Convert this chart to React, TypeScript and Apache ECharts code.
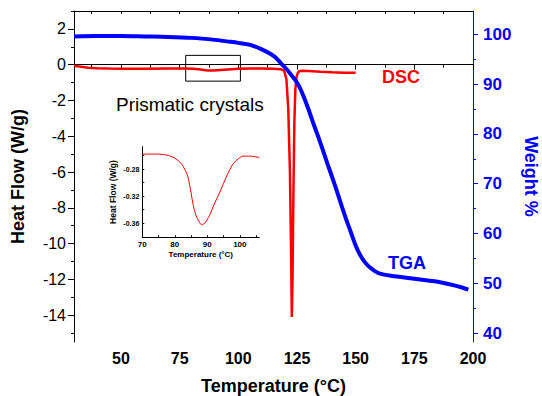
import React, { useEffect, useRef } from "react";
import * as echarts from "echarts";

// ---- DSC (heat flow, W/g) ----
const dscT = [30, 33, 36, 40, 45, 50, 60, 70, 78, 82, 84, 86, 87.5, 89, 91, 94, 97, 100, 105, 110, 115, 118, 119.5, 120.5, 121.3, 122, 122.5, 122.8, 123.1, 123.5, 123.9, 124.3, 124.8, 125.4, 126, 127, 130, 135, 140, 145, 150];
const dscV = [-0.06, -0.12, -0.17, -0.2, -0.22, -0.23, -0.23, -0.22, -0.22, -0.24, -0.27, -0.31, -0.33, -0.33, -0.31, -0.28, -0.25, -0.23, -0.22, -0.22, -0.23, -0.25, -0.33, -0.8, -2.5, -6, -10.5, -14.1, -12, -7, -3.2, -1.4, -0.7, -0.45, -0.36, -0.34, -0.36, -0.4, -0.43, -0.45, -0.45];

// ---- TGA (weight %) ----
const tgaT = [30, 40, 50, 60, 70, 80, 90, 95, 100, 105, 110, 114, 116, 118, 120, 122, 124, 126, 128, 130, 132, 134, 136, 138, 140, 142, 144, 146, 148, 150, 152, 154, 156, 158, 160, 165, 170, 175, 180, 185, 190, 195, 198];
const tgaW = [99.6, 99.7, 99.7, 99.6, 99.5, 99.3, 98.9, 98.6, 98.3, 97.9, 97.0, 96.0, 95.3, 94.3, 93.3, 92.2, 91.0, 89.5, 87.3, 84.8, 82.1, 79.5, 76.8, 74.0, 71.3, 68.5, 65.6, 62.8, 60.2, 57.6, 55.6, 54.2, 53.2, 52.5, 52.0, 51.5, 51.2, 50.9, 50.6, 50.3, 49.8, 49.2, 48.7];

// ---- Inset DSC detail ----
const insetT = [70, 75, 78, 80, 82, 83, 84, 85, 85.7, 86.5, 87.5, 88.3, 89.5, 91, 92, 93.5, 95, 96.5, 98, 99.5, 101, 103, 106];
const insetV = [-0.258, -0.258, -0.26, -0.264, -0.272, -0.28, -0.291, -0.315, -0.334, -0.348, -0.358, -0.362, -0.358, -0.345, -0.333, -0.318, -0.301, -0.285, -0.272, -0.265, -0.261, -0.261, -0.263];

// ---- Zoom box in main plot ----
const boxT = [77.6, 100.9];
const boxV = [0.52, -0.92];

// ---- ticks ----
const xMajor = [50, 75, 100, 125, 150, 175, 200];
const xMinor = [37.5, 62.5, 87.5, 112.5, 137.5, 162.5, 187.5];
const xTop = [37.5, 50, 62.5, 75, 87.5, 100, 112.5, 125, 137.5, 150, 162.5, 175, 187.5];
const hfMajor = [-14, -12, -10, -8, -6, -4, -2, 0, 2];
const hfMinor = [-15, -13, -11, -9, -7, -5, -3, -1, 1, 3];
const wMajor = [40, 50, 60, 70, 80, 90, 100];
const wMinor = [45, 55, 65, 75, 85, 95];
const inXMajor = [70, 80, 90, 100];
const inXTicks = [70, 75, 80, 85, 90, 95, 100, 105];
const inYMajor = [-0.36, -0.32, -0.28];
const inYTicks = [-0.38, -0.36, -0.34, -0.32, -0.3, -0.28, -0.26];

const FONT = "Liberation Sans, Arial, sans-serif";
const RED = "#ff0000";
const BLUE = "#0000ff";

export default function App() {
  const ref = useRef<HTMLDivElement>(null);
  useEffect(() => {
    if (!ref.current) return;
    const chart = echarts.init(ref.current, undefined, { renderer: "svg" });
    const black = { lineStyle: { color: "#000", width: 1 } };
    const option: any = {
      animation: false,
      backgroundColor: "#fff",
      textStyle: { fontFamily: FONT },
      grid: [
        { left: 74, right: 69, top: 11, bottom: 54, containLabel: false, outerBoundsMode: "none" },
        { left: 142.3, right: 282.7, top: 146.7, bottom: 158.7, containLabel: false, outerBoundsMode: "none" },
      ],
      xAxis: [
        {
          gridIndex: 0, type: "value", min: 30, max: 200, position: "bottom",
          axisLine: { show: true, ...black },
          axisTick: { show: true, customValues: xMajor, length: 5, ...black },
          axisLabel: { customValues: xMajor, fontSize: 16, fontWeight: "bold", color: "#000", margin: 8, fontFamily: FONT },
          splitLine: { show: false },
          name: "Temperature (°C)", nameLocation: "middle", nameGap: 35,
          nameTextStyle: { fontSize: 18, fontWeight: "bold", color: "#000", fontFamily: FONT },
        },
        {
          gridIndex: 0, type: "value", min: 30, max: 200, position: "bottom",
          axisLine: { show: false },
          axisTick: { show: true, customValues: xMinor, length: 3, ...black },
          axisLabel: { show: false }, splitLine: { show: false },
        },
        {
          gridIndex: 0, type: "value", min: 30, max: 200, position: "top",
          axisLine: { show: true, ...black },
          axisTick: { show: true, inside: true, customValues: xTop, length: 3, ...black },
          axisLabel: { show: false }, splitLine: { show: false },
        },
        {
          gridIndex: 1, type: "value", min: 70, max: 106, position: "bottom",
          axisLine: { show: true, ...black },
          axisTick: { show: true, inside: true, customValues: inXTicks, length: 2, ...black },
          axisLabel: { customValues: inXMajor, fontSize: 8, fontWeight: "bold", color: "#000", margin: 3, fontFamily: FONT },
          splitLine: { show: false },
          name: "Temperature (°C)", nameLocation: "middle", nameGap: 13,
          nameTextStyle: { fontSize: 8, fontWeight: "bold", color: "#000", fontFamily: FONT },
        },
      ],
      yAxis: [
        {
          gridIndex: 0, type: "value", min: -15.5, max: 3, position: "left",
          axisLine: { show: true, ...black },
          axisTick: { show: true, customValues: hfMajor, length: 6, ...black },
          axisLabel: { customValues: hfMajor, fontSize: 16, color: "#000", margin: 8, fontFamily: FONT },
          splitLine: { show: false },
          name: "Heat Flow (W/g)", nameLocation: "middle", nameGap: 47,
          nameTextStyle: { fontSize: 18, fontWeight: "bold", color: "#000", fontFamily: FONT },
        },
        {
          gridIndex: 0, type: "value", min: -15.5, max: 3, position: "left",
          axisLine: { show: false },
          axisTick: { show: true, customValues: hfMinor, length: 3, ...black },
          axisLabel: { show: false }, splitLine: { show: false },
        },
        {
          gridIndex: 0, type: "value", min: 38.2, max: 104.7, position: "right",
          axisLine: { show: true, lineStyle: { color: BLUE, width: 1 } },
          axisTick: { show: true, customValues: wMajor, length: 5, lineStyle: { color: BLUE } },
          axisLabel: { customValues: wMajor, fontSize: 17, fontWeight: "bold", color: BLUE, margin: 10, fontFamily: FONT },
          splitLine: { show: false },
          name: "Weight %", nameLocation: "middle", nameGap: 49, nameRotate: -90,
          nameTextStyle: { fontSize: 18, fontWeight: "bold", color: BLUE, fontFamily: FONT },
        },
        {
          gridIndex: 0, type: "value", min: 38.2, max: 104.7, position: "right",
          axisLine: { show: false },
          axisTick: { show: true, customValues: wMinor, length: 3, lineStyle: { color: BLUE } },
          axisLabel: { show: false }, splitLine: { show: false },
        },
        {
          gridIndex: 1, type: "value", min: -0.3806, max: -0.2471, position: "left",
          axisLine: { show: true, ...black },
          axisTick: { show: true, inside: true, customValues: inYTicks, length: 2, ...black },
          axisLabel: {
            customValues: inYMajor, fontSize: 7, fontWeight: "bold", color: "#000", margin: 3, fontFamily: FONT,
            formatter: (v: number) => v.toFixed(2),
          },
          splitLine: { show: false },
          name: "Heat Flow (W/g)", nameLocation: "middle", nameGap: 25,
          nameTextStyle: { fontSize: 8.5, fontWeight: "bold", color: "#000", fontFamily: FONT },
        },
      ],
      series: [
        {
          type: "line", name: "DSC", xAxisIndex: 0, yAxisIndex: 0,
          data: dscT.map((t, i) => [t, dscV[i]]),
          showSymbol: false, smooth: false,
          lineStyle: { color: RED, width: 2.5 },
          markArea: {
            silent: true,
            itemStyle: { color: "rgba(0,0,0,0)", borderColor: "#000", borderWidth: 1 },
            data: [[{ coord: [boxT[0], boxV[0]] }, { coord: [boxT[1], boxV[1]] }]],
          },
        },
        {
          type: "line", name: "TGA", xAxisIndex: 0, yAxisIndex: 2,
          data: tgaT.map((t, i) => [t, tgaW[i]]),
          showSymbol: false, smooth: 0.3,
          lineStyle: { color: BLUE, width: 4 },
        },
        {
          type: "line", name: "inset", xAxisIndex: 3, yAxisIndex: 4,
          data: insetT.map((t, i) => [t, insetV[i]]),
          showSymbol: false, smooth: 0.3,
          lineStyle: { color: RED, width: 1 },
        },
      ],
      graphic: [
        { type: "text", x: 382, y: 77, style: { text: "DSC", fill: RED, font: `bold 18px ${FONT}`, verticalAlign: "middle" } },
        { type: "text", x: 388, y: 263, style: { text: "TGA", fill: BLUE, font: `bold 18px ${FONT}`, verticalAlign: "middle" } },
        { type: "text", x: 116, y: 104, style: { text: "Prismatic crystals", fill: "#000", font: `19px ${FONT}`, verticalAlign: "middle" } },
      ],
    };
    chart.setOption(option);
    return () => chart.dispose();
  }, []);
  return <div ref={ref} style={{ position: "fixed", left: 0, top: 0, width: 542, height: 396 }} />;
}
